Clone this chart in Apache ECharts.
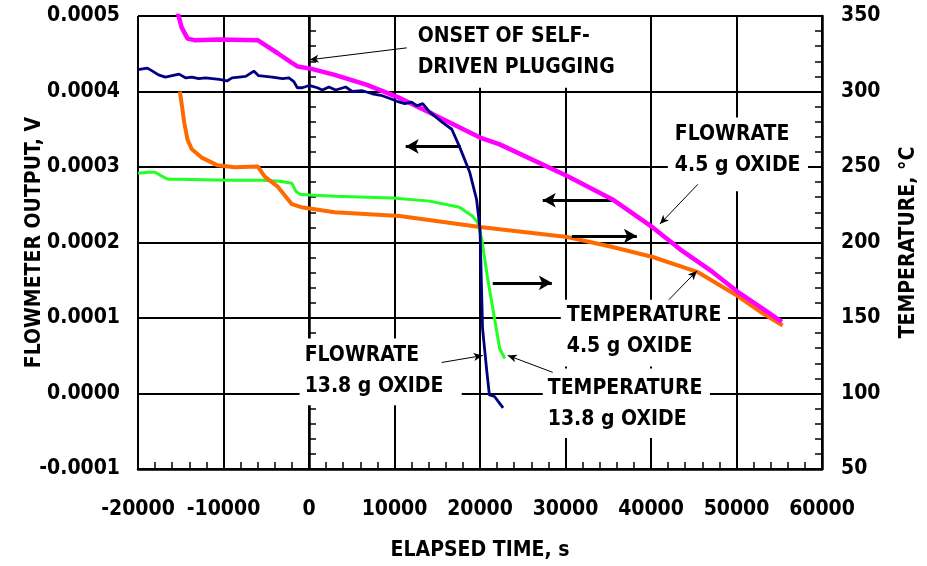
<!DOCTYPE html>
<html>
<head>
<meta charset="utf-8">
<script src="https://cdn.jsdelivr.net/npm/echarts@6/dist/echarts.min.js"></script>
<style>
html,body{margin:0;padding:0;background:#fff;}
#c{width:927px;height:566px;}
</style>
</head>
<body>
<div id="c"></div>
<script>
// ---------- DATA ----------
const xTicks = [-20000, -10000, 0, 10000, 20000, 30000, 40000, 50000, 60000];
const leftTicks = [-0.0001, 0, 0.0001, 0.0002, 0.0003, 0.0004, 0.0005];
const rightTicks = [50, 100, 150, 200, 250, 300, 350];

// Flowrate 13.8 g oxide (navy, left axis)
const flow138Time = [-20000,-18900,-18300,-17600,-16800,-16000,-15200,-14400,-13700,-12900,-12100,-11300,-10500,-9600,-9000,-8200,-7400,-6450,-5900,-5100,-4300,-3100,-2350,-1770,-1370,-780,10,970,1560,2330,3120,4290,5070,6240,7410,8400,9400,10300,11200,12000,12600,13300,14100,15600,16700,17600,18800,19600,20000,20300,20800,21100,21700,22100,22300,22700];
const flow138Value = [0.000429,0.000431,0.000427,0.000422,0.000419,0.000421,0.000423,0.000418,0.000419,0.000417,0.000418,0.000417,0.000416,0.000414,0.000418,0.000419,0.000420,0.000427,0.000421,0.000420,0.000419,0.000417,0.000418,0.000413,0.000405,0.000405,0.000408,0.000405,0.000402,0.000406,0.000402,0.000406,0.000400,0.000401,0.000397,0.000395,0.000391,0.000387,0.000384,0.000386,0.000381,0.000384,0.000373,0.000359,0.000350,0.000327,0.000293,0.000257,0.000218,0.000086,0.000029,-0.000002,-0.000004,-0.000010,-0.000010,-0.000019];

// Flowrate 4.5 g oxide (magenta, left axis)
const flow45Time = [-15600,-14900,-14200,-13400,-10500,-6000,-5200,-3700,-2000,-1300,300,3000,6700,10300,14500,20000,22300,30200,35500,40200,43400,47200,50100,53100,55300];
const flow45Value = [0.000515,0.000485,0.000470,0.000468,0.000469,0.000468,0.000462,0.000451,0.000438,0.000433,0.000430,0.000422,0.000409,0.000393,0.000370,0.000339,0.000330,0.000288,0.000257,0.000220,0.000191,0.000161,0.000135,0.000112,0.000095];

// Temperature 4.5 g oxide (orange, right axis)
const temp45Time = [-15100,-14800,-14600,-14200,-13700,-12600,-10700,-8700,-6000,-5200,-3700,-2000,-900,3000,10600,20000,30200,35500,40200,45400,50100,53100,55400];
const temp45Value = [300,288,279.5,268,261.7,256.4,251.1,249.8,250.4,243.8,237.2,225.4,223.4,220.1,217.5,210.2,203.6,197,190.4,180.6,164.7,152.9,145];

// Temperature 13.8 g oxide (green, right axis)
const temp138Time = [-20000,-18800,-18000,-17400,-16500,-15100,-9800,-5500,-3400,-2000,-1550,-1100,100,3000,9800,14100,17600,19100,19700,20200,20900,21700,22300,22900];
const temp138Value = [245.8,246.5,246.5,244.5,241.9,241.9,241.2,241.2,240.6,239.2,234,232,231.4,230.7,229.4,227.4,223.4,217.5,213.5,202.3,176,149.6,129.8,123.2];

// ---------- ANNOTATIONS (data coordinates, left axis) ----------
const annotationTexts = [
  { lines: ['ONSET OF SELF-', 'DRIVEN PLUGGING'], at: [12710, 0.0004723], box: [[11190, 0.0004987], [39870, 0.000405]] },
  { lines: ['FLOWRATE', '4.5 g OXIDE'], at: [42790, 0.0003431], box: [[41970, 0.0003655], [58360, 0.0002679]] },
  { lines: ['FLOWRATE', '13.8 g OXIDE'], at: [-510, 0.0000503], box: [[-1100, 0.0000727], [17860, -0.0000156]] },
  { lines: ['TEMPERATURE', '4.5 g OXIDE'], at: [30150, 0.0001031], box: [[29450, 0.0001242], [49000, 0.0000358]] },
  { lines: ['TEMPERATURE', '13.8 g OXIDE'], at: [27930, 0.0000068], box: [[27340, 0.0000332], [46890, -0.0000591]] }
];
// arrows on left axis
const leftThickArrows = [ [[17750, 0.0003273], [11310, 0.0003273]], [[35420, 0.000256], [27340, 0.000256]] ];
const leftThinArrows = [ [[11430, 0.0004578], [73, 0.000442]], [[45480, 0.0002771], [41040, 0.0002244]], [[15520, 0.0000411], [20320, 0.0000503]] ];
// arrows on right axis
const rightThickArrows = [ [[30740, 204.3], [38345, 204.3]], [[21490, 173.3], [28400, 173.3]] ];
const rightThinArrows = [ [[42090, 162.1], [45370, 181.2]], [[28510, 114], [23250, 125.2]] ];

// ---------- CHART ----------
const FONT = '"DejaVu Sans Condensed", "DejaVu Sans", sans-serif';
const zip = (a, b) => a.map((v, i) => [v, b[i]]);
const thick = arr => arr.map(p => [{ coord: p[0], symbol: 'none' }, { coord: p[1], symbol: 'arrow', symbolSize: [11, 13] }]);
const thin = arr => arr.map(p => [{ coord: p[0], symbol: 'none' }, { coord: p[1], symbol: 'arrow', symbolSize: [6, 9] }]);

const labelStyle = { color: '#000', fontFamily: FONT, fontWeight: 'bold', fontSize: 21 };

const option = {
  animation: false,
  backgroundColor: '#fff',
  grid: { left: 138, right: 105, top: 16, bottom: 95, containLabel: false },
  xAxis: {
    type: 'value', min: xTicks[0], max: xTicks[xTicks.length - 1], interval: 10000,
    name: 'ELAPSED TIME, s', nameLocation: 'middle', nameGap: 71, nameMoveOverlap: false,
    nameTextStyle: labelStyle,
    axisLine: { show: true, onZero: false, lineStyle: { color: '#000', width: 2.5 } },
    axisTick: { show: false, inside: true },
    minorTick: { show: true, splitNumber: 5, length: 7, lineStyle: { color: '#000', width: 1.5 } },
    axisLabel: Object.assign({ margin: 30, formatter: v => String(v) }, labelStyle),
    splitLine: { show: true, lineStyle: { color: '#000', width: 2 } }
  },
  yAxis: [
    {
      type: 'value', min: leftTicks[0], max: leftTicks[leftTicks.length - 1], interval: 0.0001,
      name: 'FLOWMETER OUTPUT, V', nameLocation: 'middle', nameGap: 93, nameRotate: 90, nameMoveOverlap: false,
      nameTextStyle: labelStyle,
      axisLine: { show: true, lineStyle: { color: '#000', width: 2.5 } },
      axisTick: { show: false, inside: true },
      minorTick: { show: true, splitNumber: 5, length: 7, lineStyle: { color: '#000', width: 1.5 } },
      axisLabel: Object.assign({ margin: 18, formatter: v => v.toFixed(4) }, labelStyle),
      splitLine: { show: true, lineStyle: { color: '#000', width: 2 } }
    },
    {
      type: 'value', min: rightTicks[0], max: rightTicks[rightTicks.length - 1], interval: 50, position: 'right',
      name: 'TEMPERATURE, °C', nameLocation: 'middle', nameGap: 76, nameRotate: 90, nameMoveOverlap: false,
      nameTextStyle: labelStyle,
      axisLine: { show: true, lineStyle: { color: '#000', width: 2.5 } },
      axisTick: { show: false, inside: true },
      minorTick: { show: true, splitNumber: 5, length: 7, lineStyle: { color: '#000', width: 1.5 } },
      axisLabel: Object.assign({ margin: 19, formatter: v => String(v) }, labelStyle),
      splitLine: { show: false }
    }
  ],
  series: [
    {
      name: 'TEMPERATURE 13.8 g OXIDE', type: 'line', yAxisIndex: 1, showSymbol: false,
      data: zip(temp138Time, temp138Value), lineStyle: { color: '#22FF22', width: 3 }, itemStyle: { color: '#22FF22' }, z: 3,
      markLine: { silent: true, animation: false, label: { show: false }, lineStyle: { color: '#000', width: 3, type: 'solid' },
        emphasis: { disabled: true }, data: thick(rightThickArrows) }
    },
    {
      name: 'TEMPERATURE 4.5 g OXIDE', type: 'line', yAxisIndex: 1, showSymbol: false,
      data: zip(temp45Time, temp45Value), lineStyle: { color: '#FF6A00', width: 4 }, itemStyle: { color: '#FF6A00' }, z: 4,
      markLine: { silent: true, animation: false, label: { show: false }, lineStyle: { color: '#000', width: 1, type: 'solid' },
        emphasis: { disabled: true }, data: thin(rightThinArrows) }
    },
    {
      name: 'FLOWRATE 4.5 g OXIDE', type: 'line', yAxisIndex: 0, showSymbol: false,
      data: zip(flow45Time, flow45Value), lineStyle: { color: '#FF00FF', width: 4.5 }, itemStyle: { color: '#FF00FF' }, z: 5,
      markLine: { silent: true, animation: false, label: { show: false }, lineStyle: { color: '#000', width: 3, type: 'solid' },
        emphasis: { disabled: true }, data: thick(leftThickArrows) }
    },
    {
      name: 'FLOWRATE 13.8 g OXIDE', type: 'line', yAxisIndex: 0, showSymbol: false,
      data: zip(flow138Time, flow138Value), lineStyle: { color: '#000080', width: 2.8 }, itemStyle: { color: '#000080' }, z: 6,
      markLine: { silent: true, animation: false, label: { show: false }, lineStyle: { color: '#000', width: 1, type: 'solid' },
        emphasis: { disabled: true }, data: thin(leftThinArrows) }
    }
  ]
};

const chart = echarts.init(document.getElementById('c'), null, { renderer: 'canvas' });
chart.setOption(option);

// annotation text boxes placed through the chart's own scales
const toPx = p => chart.convertToPixel({ xAxisIndex: 0, yAxisIndex: 0 }, p);
const LINE_H = 31;
const graphics = [];
annotationTexts.forEach(a => {
  const p1 = toPx(a.box[0]), p2 = toPx(a.box[1]);
  graphics.push({ type: 'rect', z: 1, silent: true,
    shape: { x: p1[0], y: p1[1], width: p2[0] - p1[0], height: p2[1] - p1[1] },
    style: { fill: '#fff' } });
  const t = toPx(a.at);
  a.lines.forEach((ln, i) => {
    graphics.push({ type: 'text', z: 1, silent: true, x: t[0], y: t[1] + i * LINE_H,
      style: { text: ln, fill: '#000', font: 'bold 21px ' + FONT, textAlign: 'left', textVerticalAlign: 'middle' } });
  });
});
chart.setOption({ graphic: { elements: graphics } });
</script>
</body>
</html>
